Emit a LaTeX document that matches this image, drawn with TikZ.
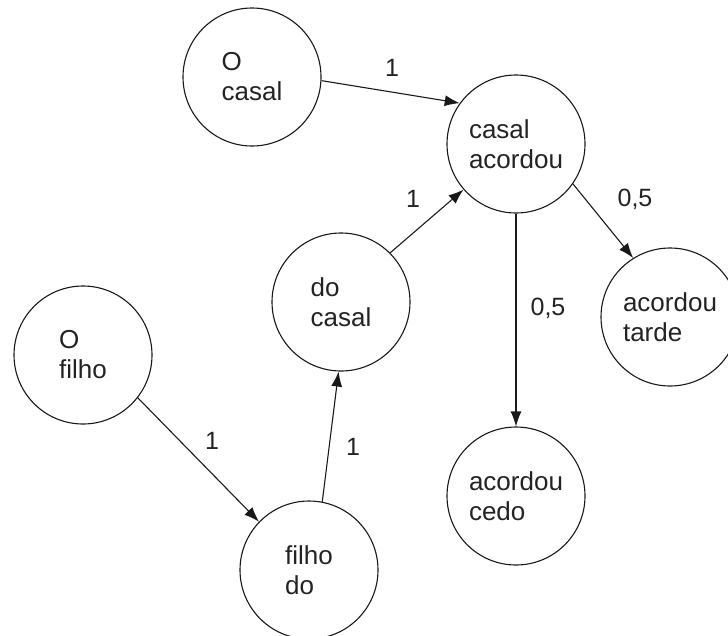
\documentclass[tikz,border=0pt]{standalone}
\usepackage{fontspec}
\setmainfont{Liberation Sans}
\usetikzlibrary{
    arrows.meta,
    positioning
}
\definecolor{lineBlack}{RGB}{25, 25, 25}
\definecolor{textBlack}{RGB}{35, 35, 35}
\tikzset{
    stateNode/.style={
        circle,
        draw=lineBlack,
        line width=1.1pt,
        minimum size=138pt,
        inner sep=0pt,
        align=left,
        text=textBlack,
        font=\fontsize{26}{30}\selectfont
    },
    transArrow/.style={
        draw=lineBlack,
        line width=1.1pt,
        -{Latex[length=15pt, width=11pt]}
    },
    weightLabel/.style={
        text=textBlack,
        font=\fontsize{25}{30}\selectfont,
        inner sep=0pt
    }
}

\begin{document}
\begin{tikzpicture}[x=1pt, y=-1pt]
    \useasboundingbox (0,0) rectangle (728,635);
    \clip (0,0) rectangle (728,635);

    % Bigram states
    \node[stateNode] (oCasal) at (252, 77) {O\\casal};
    \node[stateNode] (casalAcordou) at (516, 144) {casal\\acordou};
    \node[stateNode] (doCasal) at (341, 302) {do\\casal};
    \node[stateNode] (oFilho) at (83, 355) {O\\filho};
    \node[stateNode] (filhoDo) at (309, 570) {filho\\do};
    \node[stateNode] (acordouTarde) at (670, 317) {acordou\\tarde};
    \node[stateNode] (acordouCedo) at (516, 496) {acordou\\cedo};

    % Transitions
    \draw[transArrow] (oCasal.-3) -- (casalAcordou.144);
    \draw[transArrow] (doCasal.45) -- (casalAcordou.221);
    \draw[transArrow] (oFilho.-38) -- (filhoDo.136);
    \draw[transArrow] (filhoDo.79) -- (doCasal.268);
    \draw[transArrow] (casalAcordou.south) -- (acordouCedo.north);
    \draw[transArrow] (casalAcordou.-35) -- (acordouTarde.122);

    % Transition weights
    \node[weightLabel] (wOCasal) at (392, 68) {1};
    \node[weightLabel] (wDoCasal) at (413, 199) {1};
    \node[weightLabel] (wOFilho) at (212, 441) {1};
    \node[weightLabel] (wFilhoDo) at (353, 447) {1};
    \node[weightLabel] (wCedo) at (548, 308) {0,5};
    \node[weightLabel] (wTarde) at (635, 199) {0,5};
\end{tikzpicture}
\end{document}
